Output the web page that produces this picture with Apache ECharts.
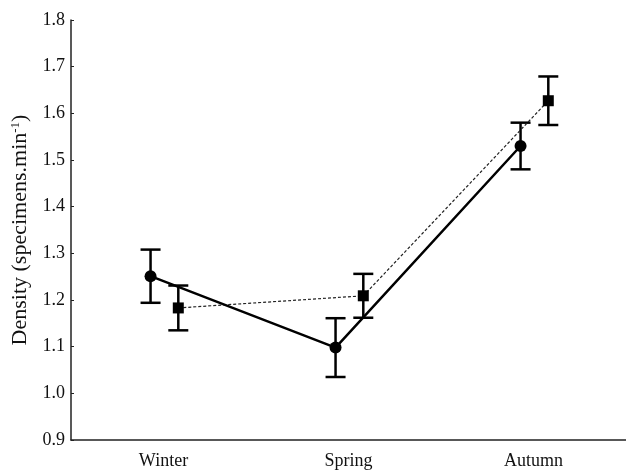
<!DOCTYPE html>
<html>
<head>
<meta charset="utf-8">
<script src="https://cdn.jsdelivr.net/npm/echarts@6/dist/echarts.min.js"></script>
<style>
  html, body { margin: 0; padding: 0; background: #fff; }
  #main { width: 626px; height: 470px; }
</style>
</head>
<body>
<div id="main"></div>
<script>
// data
const seasons = ['Winter', 'Spring', 'Autumn']
const yTicks = [0.9, 1.0, 1.1, 1.2, 1.3, 1.4, 1.5, 1.6, 1.7, 1.8]

// circles (solid line)
const circleMean = [1.251, 1.098, 1.530]
const circleErr = [0.057, 0.063, 0.050]

// squares (dotted line)
const squareMean = [1.183, 1.209, 1.627]
const squareErr = [0.048, 0.047, 0.052]

// horizontal dodge of the two groups around each season
const dodgeCircle = -0.07
const dodgeSquare = 0.08

let myChart = echarts.init(document.getElementById('main'))

const font = 'Liberation Serif'

function points(means, dodge) {
    return means.map((v, i) => [i + dodge, v])
}
function bars(means, errs, dodge) {
    return means.map((v, i) => [i + dodge, v - errs[i], v + errs[i]])
}

function renderErr(params, api) {
    let x = api.value(0)
    let lo = api.coord([x, api.value(1)])
    let hi = api.coord([x, api.value(2)])
    let half = 10
    let style = { stroke: '#000', lineWidth: 2.5 }
    return {
        type: 'group',
        children: [
            { type: 'line', shape: { x1: lo[0], y1: lo[1], x2: hi[0], y2: hi[1] }, style: style },
            { type: 'line', shape: { x1: hi[0] - half, y1: hi[1], x2: hi[0] + half, y2: hi[1] }, style: style },
            { type: 'line', shape: { x1: lo[0] - half, y1: lo[1], x2: lo[0] + half, y2: lo[1] }, style: style }
        ]
    }
}

let option = {
    animation: false,
    backgroundColor: '#fff',
    grid: {
        left: 71,
        right: 0,
        top: 20,
        bottom: 30
    },
    xAxis: [{
        // visible season axis
        type: 'category',
        data: seasons,
        boundaryGap: true,
        axisLine: { lineStyle: { color: '#222', width: 1.5 } },
        axisTick: { inside: true, alignWithLabel: true, length: 3, lineStyle: { color: '#222' } },
        axisLabel: {
            color: '#111',
            fontFamily: font,
            fontSize: 18,
            margin: 12
        }
    }, {
        // hidden numeric axis used to place the dodged marks
        type: 'value',
        min: -0.5,
        max: 2.5,
        show: false,
        splitLine: { show: false }
    }],
    yAxis: {
        type: 'value',
        min: yTicks[0],
        max: yTicks[yTicks.length - 1],
        interval: 0.1,
        splitLine: { show: false },
        axisLine: { show: true, onZero: false, lineStyle: { color: '#222', width: 1.5 } },
        axisTick: { show: true, inside: true, length: 3, lineStyle: { color: '#222' } },
        axisLabel: {
            color: '#111',
            fontFamily: font,
            fontSize: 18,
            margin: 6,
            formatter: v => v.toFixed(1)
        },
        name: 'Density (specimens.min{sup|-1})',
        nameLocation: 'middle',
        nameRotate: 90,
        nameGap: 37,
        nameTextStyle: {
            color: '#111',
            fontFamily: font,
            fontSize: 22,
            rich: {
                sup: { fontFamily: font, fontSize: 13, color: '#111', padding: [0, 0, 10, 0] }
            }
        }
    },
    series: [{
        name: 'circle err',
        type: 'custom',
        xAxisIndex: 1,
        renderItem: renderErr,
        data: bars(circleMean, circleErr, dodgeCircle),
        z: 2
    }, {
        name: 'square err',
        type: 'custom',
        xAxisIndex: 1,
        renderItem: renderErr,
        data: bars(squareMean, squareErr, dodgeSquare),
        z: 2
    }, {
        name: 'squares',
        type: 'line',
        xAxisIndex: 1,
        data: points(squareMean, dodgeSquare),
        symbol: 'rect',
        symbolSize: 11,
        itemStyle: { color: '#000' },
        lineStyle: { color: '#222', width: 1.2, type: [3, 2] },
        z: 3
    }, {
        name: 'circles',
        type: 'line',
        xAxisIndex: 1,
        data: points(circleMean, dodgeCircle),
        symbol: 'circle',
        symbolSize: 12,
        itemStyle: { color: '#000' },
        lineStyle: { color: '#000', width: 2.5 },
        z: 4
    }]
}

myChart.setOption(option)
</script>
</body>
</html>
